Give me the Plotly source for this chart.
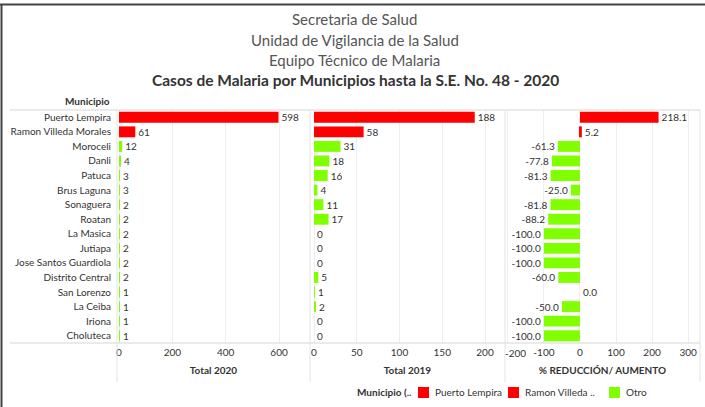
import plotly.graph_objects as go
from plotly.subplots import make_subplots

# data
municipios = ['Puerto Lempira', 'Ramon Villeda Morales', 'Moroceli', 'Danli', 'Patuca',
              'Brus Laguna', 'Sonaguera', 'Roatan', 'La Masica', 'Jutiapa',
              'Jose Santos Guardiola', 'Distrito Central', 'San Lorenzo', 'La Ceiba',
              'Iriona', 'Choluteca']
total_2020 = [598, 61, 12, 4, 3, 3, 2, 2, 2, 2, 2, 2, 1, 1, 1, 1]
total_2019 = [188, 58, 31, 18, 16, 4, 11, 17, 0, 0, 0, 5, 1, 2, 0, 0]
pct_cambio = [218.1, 5.2, -61.3, -77.8, -81.3, -25.0, -81.8, -88.2, -100.0, -100.0,
              -100.0, -60.0, 0.0, -50.0, -100.0, -100.0]
grupo = ['Puerto Lempira', 'Ramon Villeda ..'] + ['Otro'] * 14
grupos = ['Puerto Lempira', 'Ramon Villeda ..', 'Otro']
colores = {'Puerto Lempira': '#ff0000', 'Ramon Villeda ..': '#ff0000', 'Otro': '#80ff00'}

ticks_2020 = [0, 200, 400, 600]
ticks_2019 = [0, 50, 100, 150, 200]
ticks_pct = [-200, -100, 0, 100, 200, 300]

FONT = 'Lato'
W, H = 705, 407

fig = make_subplots(rows=1, cols=3, shared_yaxes=True, horizontal_spacing=0)

paneles = [(total_2020, '%{x}'), (total_2019, '%{x}'), (pct_cambio, '%{x:.1f}')]
for col, (valores, fmt) in enumerate(paneles, start=1):
    for g in grupos:
        idx = [i for i, gg in enumerate(grupo) if gg == g]
        fig.add_trace(go.Bar(
            x=[valores[i] for i in idx],
            y=[municipios[i] for i in idx],
            orientation='h',
            name=g,
            showlegend=False,
            marker=dict(color=colores[g], line=dict(width=0)),
            width=0.75,
            texttemplate=fmt,
            textposition='outside',
            constraintext='none',
            cliponaxis=False,
            textfont=dict(family=FONT, size=10, color='#333'),
            hoverinfo='skip',
        ), row=1, col=col)

# panel geometry (pixels -> paper)
def px(x):
    return x / W

def py(y):
    return 1 - y / H

top, bottom = 110, 343
bordes = [117, 310, 505, 700]
ydom = [py(bottom), py(top)]

fig.update_yaxes(domain=ydom, categoryorder='array', categoryarray=municipios,
                 autorange='reversed', showgrid=False, showline=False, zeroline=False,
                 ticks='', automargin=False)
fig.update_yaxes(tickfont=dict(family=FONT, size=10, color='#333'),
                 ticklabelstandoff=5, row=1, col=1)

ejes = [
    dict(rng=[-7.5, 716], tv=ticks_2020, titulo='Total 2020'),
    dict(rng=[-4.7, 223.4], tv=ticks_2019, titulo='Total 2019'),
    dict(rng=[-208, 333], tv=ticks_pct, titulo='% REDUCCIÓN/ AUMENTO'),
]
for i, e in enumerate(ejes):
    txt = [str(v) for v in e['tv']]
    if e['tv'][0] < 0:
        txt[0] = ''  # edge label is drawn nudged inward below, as Tableau does
    fig.update_xaxes(domain=[px(bordes[i]), px(bordes[i + 1])], range=e['rng'],
                     tickvals=e['tv'], ticktext=txt,
                     showgrid=True, gridcolor='#eeeeee', gridwidth=1,
                     zeroline=False, showline=False, ticks='', automargin=False,
                     ticklabelstandoff=2,
                     tickfont=dict(family=FONT, size=10, color='#333'),
                     title=dict(text='<b>' + e['titulo'] + '</b>', standoff=9,
                                font=dict(family=FONT, size=10, color='#333')),
                     row=1, col=i + 1)

# separators
shapes = [
    dict(type='line', xref='paper', yref='paper', x0=px(10), x1=px(700), y0=py(top), y1=py(top),
         line=dict(color='#d6d6d6', width=1)),
    dict(type='line', xref='paper', yref='paper', x0=px(10), x1=px(700), y0=py(bottom), y1=py(bottom),
         line=dict(color='#d6d6d6', width=1)),
    # outer frame
    dict(type='line', xref='paper', yref='paper', x0=0, x1=1, y0=py(4.5), y1=py(4.5),
         line=dict(color='#444', width=2)),
    dict(type='line', xref='paper', yref='paper', x0=px(1.5), x1=px(1.5), y0=0, y1=py(4.5),
         line=dict(color='#444', width=2)),
]
for b in bordes:
    shapes.append(dict(type='line', xref='paper', yref='paper', x0=px(b), x1=px(b),
                       y0=py(382), y1=py(top), line=dict(color='#e3e3e3', width=1)))

titulos = ['Secretaria de Salud', 'Unidad de Vigilancia de la Salud', 'Equipo Técnico de Malaria']
annotations = []
for t, y in zip(titulos, [19, 40, 60]):
    annotations.append(dict(text=t, x=px(355), y=py(y), xref='paper', yref='paper',
                            showarrow=False, xanchor='center', yanchor='middle',
                            font=dict(family=FONT, size=15, color='#555')))
annotations.append(dict(text='<b>Casos de Malaria por Municipios hasta la S.E. No. 48 - 2020</b>',
                        x=px(356), y=py(80), xref='paper', yref='paper', showarrow=False,
                        xanchor='center', yanchor='middle',
                        font=dict(family=FONT, size=15.5, color='#333')))
annotations.append(dict(text='<b>Municipio</b>', x=px(112), y=py(101), xref='paper', yref='paper',
                        showarrow=False, xanchor='right', yanchor='middle',
                        font=dict(family=FONT, size=10, color='#333')))
annotations.append(dict(text=str(ticks_pct[0]), x=ticks_pct[0], xref='x3', xshift=8,
                        y=py(353), yref='paper', showarrow=False,
                        xanchor='center', yanchor='middle',
                        font=dict(family=FONT, size=10, color='#333')))

# legend drawn by hand (Tableau style)
annotations.append(dict(text='<b>Municipio (..</b>', x=px(413), y=py(392), xref='paper', yref='paper',
                        showarrow=False, xanchor='right', yanchor='middle',
                        font=dict(family=FONT, size=10, color='#333')))
leyenda = [('Puerto Lempira', 418), ('Ramon Villeda ..', 508), ('Otro', 609)]
for nombre, x0 in leyenda:
    shapes.append(dict(type='rect', xref='paper', yref='paper', x0=px(x0), x1=px(x0 + 11),
                       y0=py(398), y1=py(387), fillcolor=colores[nombre], line=dict(width=0)))
    annotations.append(dict(text=nombre, x=px(x0 + 15), y=py(392), xref='paper', yref='paper',
                            showarrow=False, xanchor='left', yanchor='middle',
                            font=dict(family=FONT, size=10, color='#333')))

fig.update_layout(
    width=W, height=H,
    margin=dict(l=0, r=0, t=0, b=0),
    paper_bgcolor='white', plot_bgcolor='white',
    barmode='overlay',
    showlegend=False,
    font=dict(family=FONT, color='#333'),
    shapes=shapes,
    annotations=annotations,
)

fig.write_html("out.html", config={'displayModeBar': False},
               post_script="document.body.style.margin='0px';")
